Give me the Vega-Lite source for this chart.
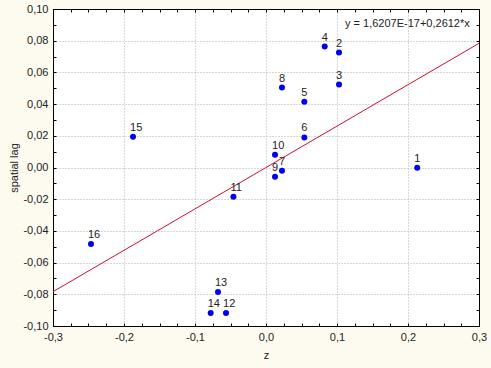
{
  "$schema": "https://vega.github.io/schema/vega-lite/v6.json",
  "width": 426,
  "height": 317,
  "autosize": {"type": "none"},
  "padding": {"left": 53, "top": 9, "right": 12, "bottom": 42},
  "background": "#FDFBEF",
  "config": {
    "font": "Liberation Sans",
    "view": {"fill": "white", "stroke": "black", "strokeWidth": 1},
    "locale": {"number": {"decimal": ",", "thousands": " ", "grouping": [3], "currency": ["", ""], "minus": "-"}}
  },
  "datasets": {
    "points": [
      {"id": "1", "z": 0.213, "lag": -0.0002},
      {"id": "2", "z": 0.1028, "lag": 0.0725},
      {"id": "3", "z": 0.1028, "lag": 0.0523},
      {"id": "4", "z": 0.0827, "lag": 0.0763},
      {"id": "5", "z": 0.054, "lag": 0.0415},
      {"id": "6", "z": 0.054, "lag": 0.019},
      {"id": "7", "z": 0.0225, "lag": -0.0021},
      {"id": "8", "z": 0.0225, "lag": 0.0504},
      {"id": "9", "z": 0.0127, "lag": -0.0059},
      {"id": "10", "z": 0.0127, "lag": 0.008},
      {"id": "11", "z": -0.0459, "lag": -0.0185},
      {"id": "12", "z": -0.0563, "lag": -0.0918},
      {"id": "13", "z": -0.0676, "lag": -0.0786},
      {"id": "14", "z": -0.0779, "lag": -0.0918},
      {"id": "15", "z": -0.1873, "lag": 0.0194},
      {"id": "16", "z": -0.2465, "lag": -0.0482}
    ],
    "fit": [
      {"z": -0.3, "lag": -0.07836},
      {"z": 0.3, "lag": 0.07836}
    ],
    "eq": [
      {"z": 0.287, "lag": 0.0904, "label": "y = 1,6207E-17+0,2612*x"}
    ]
  },
  "layer": [
    {
      "data": {"name": "fit"},
      "mark": {"type": "line", "color": "#D01030", "strokeWidth": 1, "clip": true},
      "encoding": {
        "x": {
          "field": "z", "type": "quantitative",
          "scale": {"domain": [-0.3, 0.3], "nice": false, "zero": false},
          "axis": {
            "orient": "bottom",
            "values": [-0.3,-0.275,-0.25,-0.225,-0.2,-0.175,-0.15,-0.125,-0.1,-0.075,-0.05,-0.025,0,0.025,0.05,0.075,0.1,0.125,0.15,0.175,0.2,0.225,0.25,0.275,0.3],
            "format": ".1f",
            "labelExpr": "abs(datum.value*10-round(datum.value*10))<0.001 ? datum.label : ''",
            "grid": true,
            "gridColor": "#B0B0B0",
            "gridDash": [1, 2],
            "gridOpacity": {"condition": {"test": "abs(datum.value*10-round(datum.value*10))<0.001", "value": 1}, "value": 0},
            "tickSize": -3,
            "tickColor": "black",
            "domainColor": "black",
            "labelFontSize": 11,
            "labelColor": "#222222",
            "labelPadding": 8,
            "labelOverlap": false,
            "labelFlush": false,
            "labelBound": false,
            "title": "z",
            "titleFontSize": 11,
            "titleFontWeight": "normal",
            "titleColor": "#222222",
            "titlePadding": 7
          }
        },
        "y": {
          "field": "lag", "type": "quantitative",
          "scale": {"domain": [-0.1, 0.1], "nice": false, "zero": false},
          "axis": {
            "orient": "left",
            "values": [-0.1,-0.09,-0.08,-0.07,-0.06,-0.05,-0.04,-0.03,-0.02,-0.01,0,0.01,0.02,0.03,0.04,0.05,0.06,0.07,0.08,0.09,0.1],
            "format": ".2f",
            "labelExpr": "abs(datum.value*50-round(datum.value*50))<0.001 ? datum.label : ''",
            "grid": true,
            "gridColor": "#B0B0B0",
            "gridDash": [1, 2],
            "gridOpacity": {"condition": {"test": "abs(datum.value*50-round(datum.value*50))<0.001", "value": 1}, "value": 0},
            "tickSize": -3,
            "tickColor": "black",
            "domainColor": "black",
            "labelFontSize": 11,
            "labelColor": "#222222",
            "labelPadding": 8,
            "labelOverlap": false,
            "labelFlush": false,
            "labelBound": false,
            "title": "spatial lag",
            "titleFontSize": 11,
            "titleFontWeight": "normal",
            "titleColor": "#222222",
            "titlePadding": 3
          }
        }
      }
    },
    {
      "data": {"name": "points"},
      "mark": {"type": "circle", "size": 36, "color": "#0000EE", "opacity": 1},
      "encoding": {
        "x": {
          "field": "z", "type": "quantitative",
          "axis": {
            "orient": "top",
            "values": [-0.3,-0.275,-0.25,-0.225,-0.2,-0.175,-0.15,-0.125,-0.1,-0.075,-0.05,-0.025,0,0.025,0.05,0.075,0.1,0.125,0.15,0.175,0.2,0.225,0.25,0.275,0.3],
            "labels": false,
            "grid": false,
            "tickSize": -3,
            "tickColor": "black",
            "domainColor": "black",
            "title": null
          }
        },
        "y": {
          "field": "lag", "type": "quantitative",
          "axis": {
            "orient": "right",
            "values": [-0.1,-0.09,-0.08,-0.07,-0.06,-0.05,-0.04,-0.03,-0.02,-0.01,0,0.01,0.02,0.03,0.04,0.05,0.06,0.07,0.08,0.09,0.1],
            "labels": false,
            "grid": false,
            "tickSize": -3,
            "tickColor": "black",
            "domainColor": "black",
            "title": null
          }
        }
      }
    },
    {
      "data": {"name": "points"},
      "mark": {"type": "text", "align": "left", "baseline": "middle", "dx": -3, "dy": -9, "fontSize": 11, "color": "#222222"},
      "encoding": {
        "x": {"field": "z", "type": "quantitative", "axis": null},
        "y": {"field": "lag", "type": "quantitative", "axis": null},
        "text": {"field": "id"}
      }
    },
    {
      "data": {"name": "eq"},
      "mark": {"type": "text", "align": "right", "baseline": "middle", "fontSize": 11, "color": "#222222"},
      "encoding": {
        "x": {"field": "z", "type": "quantitative", "axis": null},
        "y": {"field": "lag", "type": "quantitative", "axis": null},
        "text": {"field": "label"}
      }
    }
  ]
}
